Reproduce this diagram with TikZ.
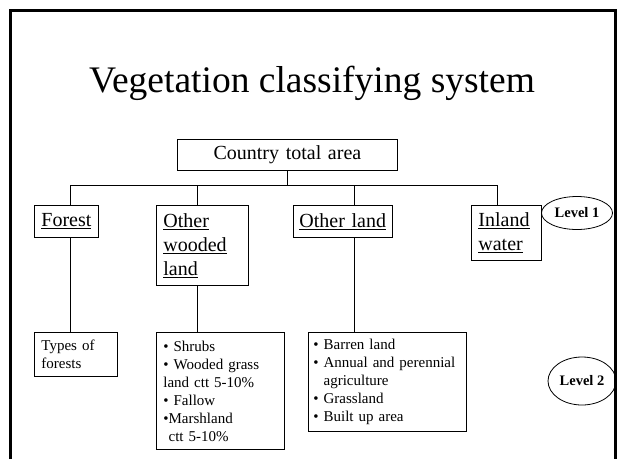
\documentclass[tikz,border=0pt]{standalone}
\usepackage{fontspec}
\setmainfont{Liberation Serif}
\usetikzlibrary{shapes.geometric}

\tikzset{
  catbox/.style={draw, line width=0.8pt, anchor=north west, align=left,
    inner xsep=7pt, inner ysep=0pt, font=\fontsize{20}{24}\selectfont},
  listbox/.style={catbox, font=\fontsize{15}{18}\selectfont},
  levelmark/.style={draw, ellipse, line width=0.8pt, inner sep=0pt,
    font=\fontsize{14.5}{16}\selectfont\bfseries},
  link/.style={line width=0.8pt}
}

\begin{document}
\begin{tikzpicture}[x=1pt,y=-1pt]
      \useasboundingbox (0,0) rectangle (618,459);
      \draw [line width=3pt] (10,459) -- (10,10) -- (615,10) -- (615,459);

      \node [anchor=base, font=\fontsize{37.5}{42}\selectfont] (title) at (312,92) {Vegetation classifying system};

      % level 1
      \node [catbox, align=center, text width=206pt, minimum height=31pt] (country) at (177,139) {Country total area};
      \node [catbox, text width=50pt, minimum height=32pt] (forest) at (34,205) {\underline{Forest}};
      \node [catbox, text width=78pt, minimum height=80pt] (wooded) at (156,205) {\underline{Other}\\\underline{wooded}\\\underline{land}};
      \node [catbox, inner xsep=6pt, text width=87pt, minimum height=32pt] (otherland) at (293,205) {\underline{Other land}};
      \node [catbox, text width=56pt, minimum height=55pt] (inland) at (471,205) {\underline{Inland}\\\underline{water}};
      \node [levelmark, minimum width=71pt, minimum height=33pt] (level1) at (577,213) {Level 1};

      % level 2
      \node [listbox, text width=69pt, minimum height=44pt] (types) at (34,332) {Types of\\forests};
      \node [listbox, text width=114pt, minimum height=117pt] (shrubs) at (156,332) {• Shrubs\\• Wooded grass\\land ctt 5-10\%\\• Fallow\\•Marshland\\\phantom{•}ctt 5-10\%};
      \node [listbox, inner xsep=5pt, text width=148pt, minimum height=99pt] (barren) at (308,332) {• Barren land\\• Annual and perennial\\\phantom{• }agriculture\\• Grassland\\• Built up area};
      \node [levelmark, minimum width=68pt, minimum height=48pt] (level2) at (582,381) {Level 2};

      % tree lines
      \coordinate (dforest) at (70,185);
      \coordinate (dwooded) at (197,185);
      \coordinate (dother) at (354,185);
      \coordinate (dinland) at (497,185);
      \draw [link] (dforest) -- (dinland);
      \draw [link] (country.south) -- (country.south |- dforest);
      \draw [link] (dforest) -- (dforest |- forest.north);
      \draw [link] (dwooded) -- (dwooded |- wooded.north);
      \draw [link] (dother) -- (dother |- otherland.north);
      \draw [link] (dinland) -- (dinland |- inland.north);
      \draw [link] (dforest |- forest.south) -- (dforest |- types.north);
      \draw [link] (dwooded |- wooded.south) -- (dwooded |- shrubs.north);
      \draw [link] (dother |- otherland.south) -- (dother |- barren.north);

    \end{tikzpicture}
\end{document}
